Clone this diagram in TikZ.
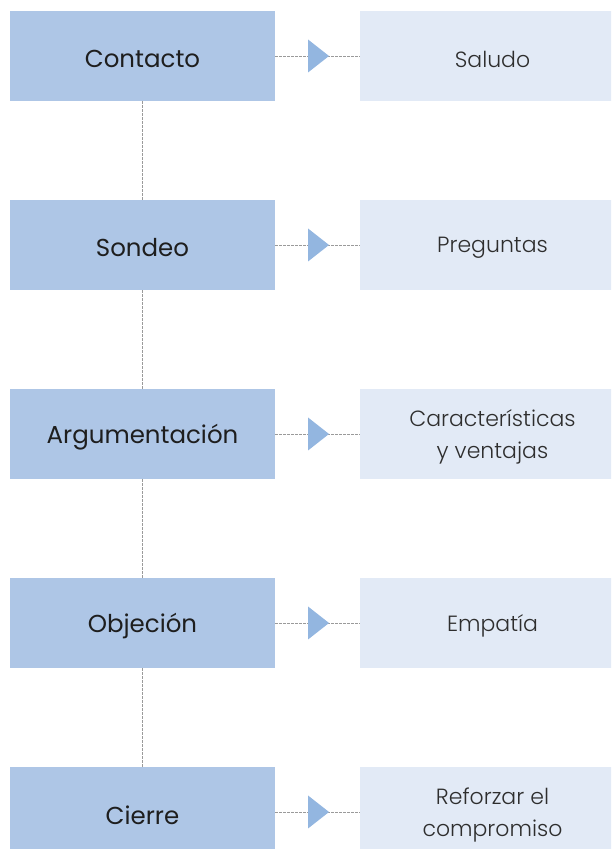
\documentclass[tikz,border=0pt]{standalone}
\usepackage{fontspec}
\setmainfont{Poppins}
\newfontfamily\lightfont{Poppins Light}
\definecolor{leftblue}{HTML}{AEC6E6}
\definecolor{rightblue}{HTML}{E2EAF6}
\definecolor{triblue}{HTML}{93B6E0}
\definecolor{dashgray}{HTML}{9A9A9A}
\definecolor{txtdark}{HTML}{1E1E1E}
\definecolor{txtlight}{HTML}{2E2E2E}
\begin{document}
\begin{tikzpicture}[x=1pt,y=1pt,
  stepbox/.style={fill=leftblue,minimum width=265pt,minimum height=90pt,inner sep=0pt},
  resbox/.style={fill=rightblue,minimum width=265pt,minimum height=90pt,inner sep=0pt},
  steptext/.style={yshift=-3pt,text=txtdark,font=\fontsize{24.5}{28}\selectfont},
  restext/.style={yshift=-3pt,text=txtlight,align=center,font=\lightfont\fontsize{22}{32}\selectfont},
  link/.style={draw=dashgray,line width=0.8pt,dash pattern=on 2.5pt off 1.5pt},
  tri/.style={fill=triblue}]
\useasboundingbox (0,0) rectangle (611,849);
\clip (0,0) rectangle (611,849);
\node[stepbox,label={[steptext]center:Contacto}] (s1) at (142.5,793) {};
\node[stepbox,label={[steptext]center:Sondeo}] (s2) at (142.5,604) {};
\node[stepbox,label={[steptext]center:Argumentación}] (s3) at (142.5,415) {};
\node[stepbox,label={[steptext]center:Objeción}] (s4) at (142.5,226) {};
\node[stepbox,label={[steptext]center:Cierre}] (s5) at (142.5,37) {};
\node[resbox,label={[restext]center:Saludo}] (r1) at (492.5,793) {};
\node[resbox,label={[restext]center:Preguntas}] (r2) at (492.5,604) {};
\node[resbox,label={[restext]center:{Características\\y ventajas}}] (r3) at (492.5,415) {};
\node[resbox,label={[restext]center:Empatía}] (r4) at (492.5,226) {};
\node[resbox,label={[restext]center:{Reforzar el\\compromiso}}] (r5) at (492.5,37) {};
\foreach \i in {1,...,5}{
  \draw[link] (s\i.east) -- (r\i.west) coordinate[pos=0.388] (t\i);
  \fill[tri] (t\i) ++(0,16.5) -- ++(21,-16.5) -- ++(-21,-16.5) -- cycle;
}
\foreach \i/\j in {1/2,2/3,3/4,4/5}{
  \draw[link] (s\i.south) -- (s\j.north);
}
\end{tikzpicture}
\end{document}
